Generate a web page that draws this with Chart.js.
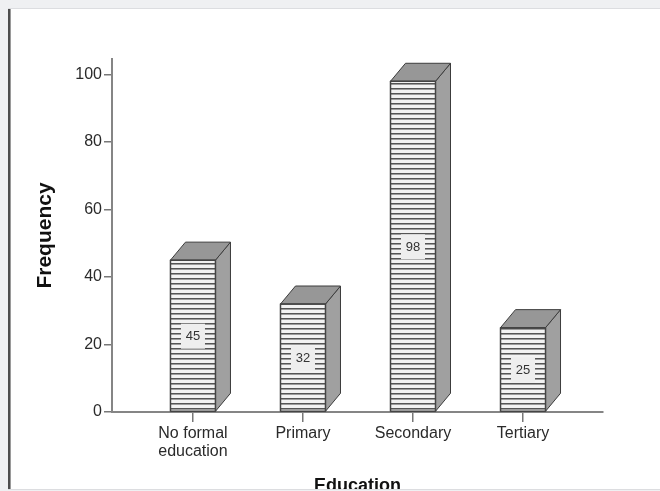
<!DOCTYPE html>
<html>
<head>
<meta charset="utf-8">
<script src="https://cdn.jsdelivr.net/npm/chart.js@4/dist/chart.umd.min.js"></script>
<style>
html,body{margin:0;padding:0;background:#eff0f2;}
#wrap{position:absolute;left:0;top:0;width:660px;height:491px;}
</style>
</head>
<body>
<div id="wrap"><canvas id="c" width="660" height="491"></canvas></div>
<script>
// data
const categories=[['No formal','education'],'Primary','Secondary','Tertiary'];
const frequency=[45,32,98,25];
const yTicks=[0,20,40,60,80,100];

const FONT="'Liberation Sans', Arial, sans-serif";

// horizontal stripe fill for the bar faces
function stripes(){
  const p=document.createElement('canvas');p.width=6;p.height=5;
  const g=p.getContext('2d');
  g.fillStyle='#f2f2f2';g.fillRect(0,0,6,5);
  g.fillStyle='#555';g.fillRect(0,3,6,1);
  g.fillStyle='#9c9c9c';g.fillRect(0,4,6,1);
  return document.createElement('canvas').getContext('2d').createPattern(p,'repeat');
}

const frame={id:'frame',
  beforeDraw(chart){
    const c=chart.ctx;c.save();
    c.fillStyle='#eff0f2';c.fillRect(0,0,660,491);
    c.fillStyle='#dcdde0';c.fillRect(8,8,652,1);
    c.fillStyle='#fff';c.fillRect(10,9,650,480);
    c.fillStyle='#4d4d4d';c.fillRect(8,9,2,480);
    c.fillStyle='#9a9a9a';c.fillRect(10,9,1,480);
    c.restore();
  },
  afterDraw(chart){
    const c=chart.ctx;c.save();
    c.fillStyle='#dcdde0';c.fillRect(8,489,652,1);
    c.fillStyle='#eff0f2';c.fillRect(0,490,660,1);
    c.restore();
  }
};

// 3d top / side faces and the value boxes
const boxes={id:'boxes',
  afterDatasetsDraw(chart){
    const c=chart.ctx,meta=chart.getDatasetMeta(0);
    const dx=15,dy=18;
    c.save();
    meta.data.forEach((b,i)=>{
      const l=b.x-b.width/2,r=b.x+b.width/2,t=b.y,bot=b.base;
      c.lineWidth=1;c.strokeStyle='#3c3c3c';c.lineJoin='round';
      // side
      c.beginPath();c.moveTo(r,t);c.lineTo(r+dx,t-dy);c.lineTo(r+dx,bot-dy);c.lineTo(r,bot);c.closePath();
      c.fillStyle='#a0a0a0';c.fill();c.stroke();
      // top
      c.beginPath();c.moveTo(l,t);c.lineTo(l+dx,t-dy);c.lineTo(r+dx,t-dy);c.lineTo(r,t);c.closePath();
      c.fillStyle='#979797';c.fill();c.stroke();
      // front outline
      c.lineWidth=1.5;c.strokeStyle='#444';c.strokeRect(l,t,r-l,bot-t);
      // value box
      const cy=(t+bot)/2;
      c.fillStyle='#eeeeee';c.fillRect(b.x-12,cy-12,24,25);
      c.fillStyle='#333';c.font='13px '+FONT;c.textAlign='center';c.textBaseline='middle';
      c.fillText(String(frequency[i]),b.x,cy+1);
    });
    c.restore();
  }
};

new Chart(document.getElementById('c'),{
  type:'bar',
  data:{datasets:[{
    data:frequency.map((v,i)=>({x:i,y:v})),
    backgroundColor:stripes(),
    borderColor:'#444',borderWidth:0,
    barThickness:45
  }]},
  options:{
    responsive:false,animation:false,
    layout:{padding:{top:59,right:57,left:0,bottom:0}},
    plugins:{legend:{display:false},tooltip:{enabled:false}},
    scales:{
      x:{type:'linear',min:-0.736,max:3.727,offset:false,
        afterFit(s){s.height=79;},
        border:{display:true,color:'#858585',width:2},
        grid:{display:true,offset:false,drawOnChartArea:false,drawTicks:true,tickLength:10,color:'#777',lineWidth:1.5},
        ticks:{stepSize:1,includeBounds:false,autoSkip:false,maxRotation:0,padding:3,color:'#2a2a2a',
          font:{family:FONT,size:16,lineHeight:1.12},
          callback:v=>categories[v]},
        title:{display:true,text:'Education',color:'#111',padding:0,
          font:{family:FONT,size:18,weight:'bold',lineHeight:0.6}}
      },
      y:{min:0,max:104.6,
        afterFit(s){s.width=112;},
        afterBuildTicks(s){s.ticks=yTicks.map(v=>({value:v}));},
        border:{display:true,color:'#858585',width:2},
        grid:{display:true,drawOnChartArea:false,drawTicks:true,tickLength:8,color:'#777',lineWidth:1.5},
        ticks:{padding:2,color:'#2a2a2a',font:{family:FONT,size:16}},
        title:{display:true,text:'Frequency',color:'#111',padding:{top:33,bottom:0},
          font:{family:FONT,size:21,weight:'bold'}}
      }
    }
  },
  plugins:[frame,boxes]
});
</script>
</body>
</html>
